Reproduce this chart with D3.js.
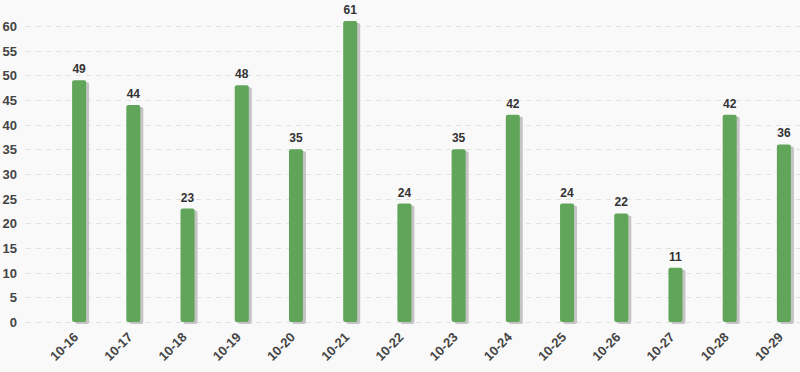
<!DOCTYPE html>
<html lang="en">
<head>
  <meta charset="UTF-8">
  <title>Daily counts</title>
  <script src="https://cdn.jsdelivr.net/npm/d3@7/dist/d3.min.js"></script>
  <style>
    body { margin: 0; background: #f9f9f9; font-family: "Liberation Sans", Arial, sans-serif; }
    svg { display: block; }
    .tick-label { font-size: 13px; font-weight: bold; fill: #444; }
    .value-label { font-size: 12px; font-weight: bold; fill: #333; text-anchor: middle; }
  </style>
</head>
<body>
  <script>
    const days = ["10-16", "10-17", "10-18", "10-19", "10-20", "10-21", "10-22",
                  "10-23", "10-24", "10-25", "10-26", "10-27", "10-28", "10-29"];
    const counts = [49, 44, 23, 48, 35, 61, 24, 35, 42, 24, 22, 11, 42, 36];
    const yTicks = [0, 5, 10, 15, 20, 25, 30, 35, 40, 45, 50, 55, 60];

    const W = 800, H = 372;
    const gridLeft = 26, plotLeft = 52, plotRight = 811;
    const y0 = 322, yTop = 26;

    const svg = d3.select("body").append("svg")
                  .attr("width", W)
                  .attr("height", H);

    const x = d3.scaleBand()
                .domain(days)
                .range([plotLeft, plotRight]);

    const y = d3.scaleLinear()
                .domain([0, 60])
                .range([y0, yTop]);

    const barW = 14;

    // grid lines
    svg.append("g").attr("id", "grid")
       .selectAll("line")
       .data(yTicks)
       .enter().append("line")
       .attr("x1", gridLeft)
       .attr("x2", W)
       .attr("y1", d => Math.round(y(d)) + 0.5)
       .attr("y2", d => Math.round(y(d)) + 0.5)
       .attr("stroke", "#e2e2e2")
       .attr("stroke-width", 1)
       .attr("stroke-dasharray", "5,5");

    // y tick labels
    svg.append("g").attr("id", "y_axis")
       .selectAll("text")
       .data(yTicks)
       .enter().append("text")
       .attr("class", "tick-label")
       .attr("x", 17)
       .attr("y", d => y(d) + 5)
       .attr("text-anchor", "end")
       .text(d => d);

    const cx = d => x(d) + x.bandwidth() / 2;

    // shadows
    svg.append("g").attr("id", "shadows")
       .selectAll("rect")
       .data(counts)
       .enter().append("rect")
       .attr("x", (d, i) => cx(days[i]) - barW / 2 + 3)
       .attr("y", d => y(d) + 2)
       .attr("width", barW)
       .attr("height", d => y0 - y(d))
       .attr("rx", 2)
       .attr("fill", "#c4c4c4");

    // bars
    svg.append("g").attr("id", "bars")
       .selectAll("rect")
       .data(counts)
       .enter().append("rect")
       .attr("x", (d, i) => cx(days[i]) - barW / 2)
       .attr("y", d => y(d))
       .attr("width", barW)
       .attr("height", d => y0 - y(d))
       .attr("rx", 2)
       .attr("fill", "#60a55a");

    // value labels
    svg.append("g").attr("id", "values")
       .selectAll("text")
       .data(counts)
       .enter().append("text")
       .attr("class", "value-label")
       .attr("x", (d, i) => cx(days[i]))
       .attr("y", d => y(d) - 7)
       .text(d => d);

    // x tick labels
    svg.append("g").attr("id", "x_axis")
       .selectAll("text")
       .data(days)
       .enter().append("text")
       .attr("class", "tick-label")
       .attr("text-anchor", "end")
       .attr("transform", d => `translate(${cx(d)},${y0 + 16}) rotate(-45)`)
       .text(d => d);
  </script>
</body>
</html>
